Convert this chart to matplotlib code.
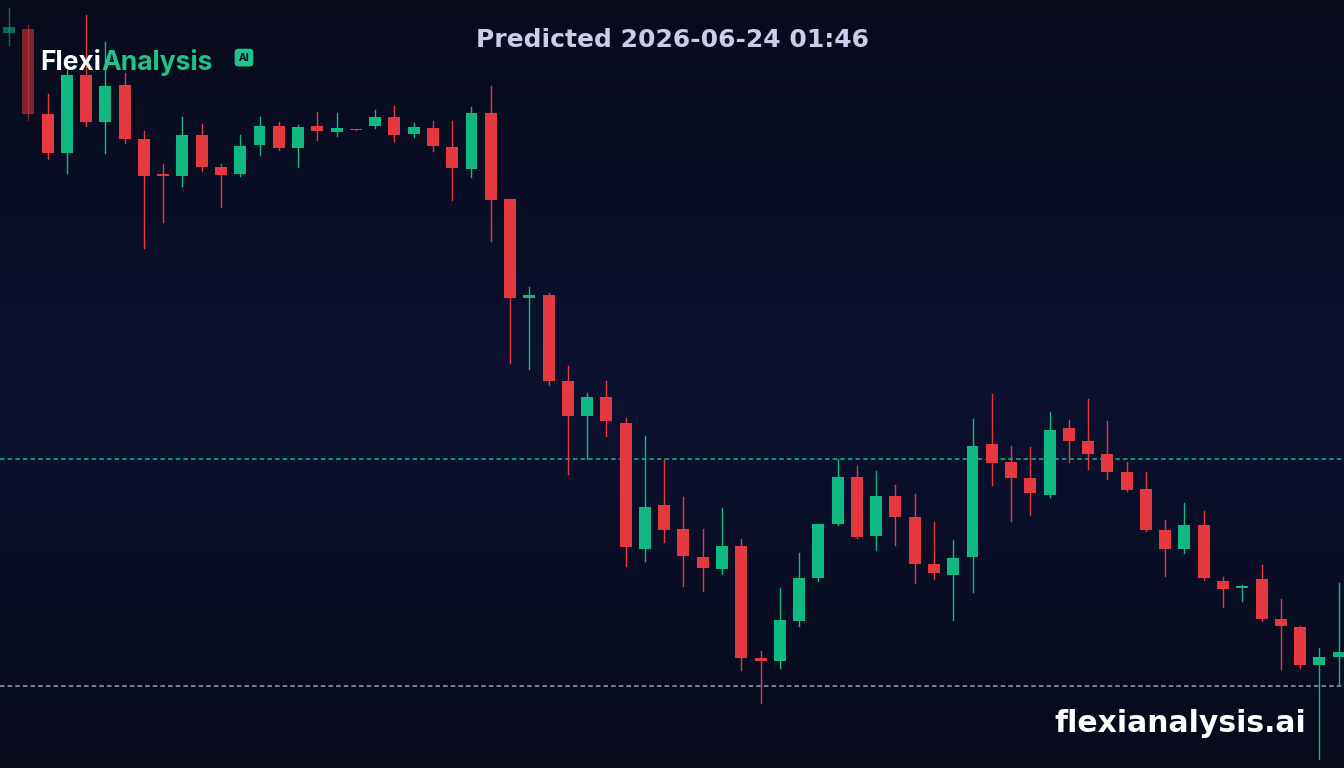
import matplotlib
matplotlib.use("Agg")
import matplotlib.pyplot as plt
import numpy as np

# OHLC (arbitrary price units)
opens  = [735,739,654,615,693,646,683,629,594,592,633,601,594,623,642,620,642,636,639,642,651,634,640,621,599,655,569,470,473,387,352,371,345,219,263,239,211,199,222,110,107,147,190,244,291,232,272,251,204,193,211,324,306,290,273,340,327,314,296,279,238,219,243,187,180,189,149,141,103,111]
closes = [741,654,615,693,646,682,629,592,592,633,601,593,622,642,620,641,637,640,638,651,633,641,622,600,655,568,470,473,387,352,371,347,221,261,238,212,200,222,110,107,148,190,244,291,231,272,251,204,195,210,322,305,290,275,338,327,314,296,278,238,219,243,190,179,182,149,142,103,111,116]
highs  = [760,743,674,698,753,726,695,637,604,651,644,604,633,651,646,643,656,655,639,658,662,645,647,647,661,682,569,481,475,402,375,387,350,332,309,271,239,260,229,117,180,215,244,309,302,297,283,274,246,228,349,374,322,321,356,348,369,347,306,296,248,265,257,191,183,203,169,142,120,185]
lows   = [723,648,609,595,642,615,625,520,546,582,597,561,592,613,618,601,628,632,638,640,627,631,617,568,591,527,405,399,383,294,309,332,202,207,226,182,177,194,98,65,100,142,187,243,230,218,223,185,189,148,176,283,247,253,271,306,299,289,277,237,192,215,188,161,167,147,99,100,9,83]

level_green = 309
level_grey = 82
title = "Predicted 2026-06-24 01:46"

fig = plt.figure(figsize=(13.44, 7.68), dpi=100)
bgax = fig.add_axes([0, 0, 1, 1])
grad = np.linspace(0, 1, 256)
grad = 1 - np.abs(grad - 0.5) * 2
bgax.imshow(grad[:, None], aspect='auto',
            cmap=matplotlib.colors.LinearSegmentedColormap.from_list('g', ['#070b1a', '#0c1230']),
            extent=[0, 1, 0, 1])
bgax.axis('off')

ax = fig.add_axes([0, 0, 1, 1])
ax.patch.set_alpha(0)
step = 19.27
ax.set_xlim(-9 / step, (1344 - 9) / step)
ax.set_ylim(0, 768)
ax.axis('off')

green, red = '#10b981', '#e5393f'
for i in range(len(opens)):
    o, c, h, l = opens[i], closes[i], highs[i], lows[i]
    col = green if c >= o else red
    alpha = 0.55 if i < 2 else 1.0
    ax.plot([i, i], [l, h], color=col, lw=1, alpha=alpha, zorder=2)
    ax.add_patch(plt.Rectangle((i - 0.31, min(o, c)), 0.62, max(abs(c - o), 1.5),
                               color=col, alpha=alpha, zorder=3, lw=0))

ax.axhline(level_green, color='#10b981', ls=(0, (3, 2)), lw=1.1, zorder=1)
ax.axhline(level_grey, color='#9a9cc4', ls=(0, (3, 2)), lw=1.1, zorder=1)

fig.text(0.5, 0.948, title, ha='center', va='center', color='#c9cde8', fontsize=18, fontweight='bold')
t1 = fig.text(40/1344, 0.918, "Flexi", color='white', fontsize=19, fontweight='bold', va='center',
              family='Inter')
fig.canvas.draw()
bb = t1.get_window_extent()
fig.text(bb.x1/1344, 0.918, "Analysis", color='#1fc48c', fontsize=19, fontweight='bold', va='center',
         family='Inter')
fig.text(244/1344, 0.925, "AI", color='#0b1024', fontsize=7, fontweight='bold', va='center', ha='center',
         bbox=dict(boxstyle='round,pad=0.4', fc='#1fc48c', ec='none'))
fig.text(0.972, 0.058, "flexianalysis.ai", ha='right', va='center', color='white', fontsize=21.5, fontweight='bold')

fig.savefig('out.png', dpi=100)
